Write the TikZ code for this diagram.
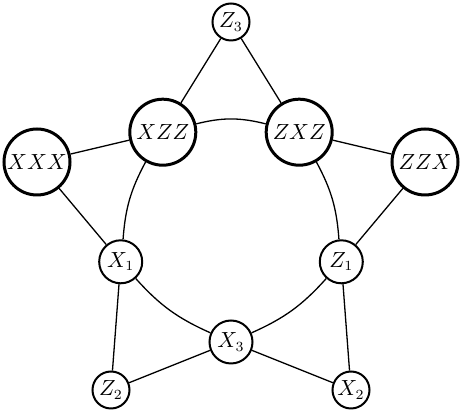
\documentclass[tikz,border=0pt]{standalone}
\begin{document}
\begin{tikzpicture}[x=0.5pt,y=0.5pt,
  every node/.style={font=\fontsize{10.5}{12}\selectfont},
  big/.style={circle,draw,fill=white,line width=1.5pt,minimum size=33pt,inner sep=0pt},
  mid/.style={circle,draw,fill=white,line width=1pt,minimum size=21.5pt,inner sep=0pt},
  sml/.style={circle,draw,fill=white,line width=1pt,minimum size=18.5pt,inner sep=0pt},
  edge/.style={line width=0.65pt}]
\useasboundingbox (0,0) rectangle (462,412);
\node[sml] (Z3) at (231,390) {$Z_3$};
\node[big] (XZZ) at (162.8,279.8) {$XZZ$};
\node[big] (ZXZ) at (299.2,279.8) {$ZXZ$};
\node[big] (XXX) at (37,250) {$XXX$};
\node[big] (ZZX) at (425,250) {$ZZX$};
\node[mid] (X1) at (120.7,150.2) {$X_1$};
\node[mid] (Z1) at (341.3,150.2) {$Z_1$};
\node[mid] (X3) at (231,70) {$X_3$};
\node[sml] (Z2) at (111,22) {$Z_2$};
\node[sml] (X2) at (351,22) {$X_2$};
\begin{scope}[edge]
\draw (Z3) -- (XZZ);
\draw (Z3) -- (ZXZ);
\draw (XXX) -- (XZZ);
\draw (ZXZ) -- (ZZX);
\draw (XXX) -- (X1);
\draw (ZZX) -- (Z1);
\draw (X1) -- (Z2);
\draw (Z1) -- (X2);
\draw (Z2) -- (X3);
\draw (X3) -- (X2);
\draw (XZZ) to[bend left=14] (ZXZ);
\draw (ZXZ) to[bend left=12] (Z1);
\draw (Z1) to[bend left=12] (X3);
\draw (X3) to[bend left=12] (X1);
\draw (X1) to[bend left=12] (XZZ);
\end{scope}
\end{tikzpicture}
\end{document}
